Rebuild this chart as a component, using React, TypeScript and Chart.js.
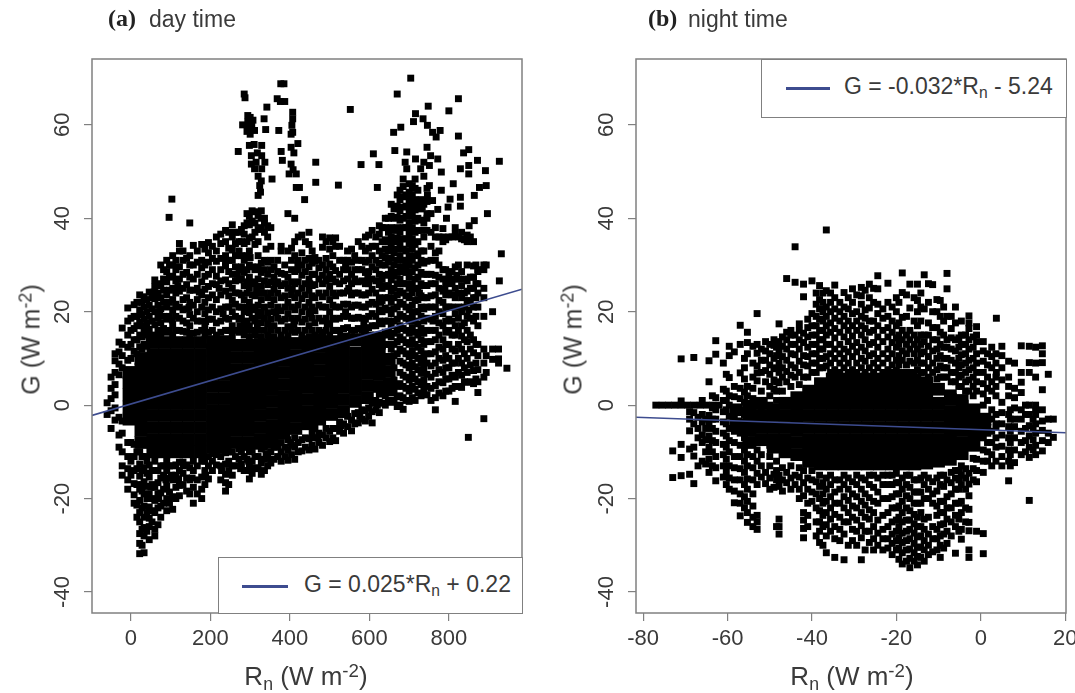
import React, { useEffect, useRef } from "react";
import { Chart, registerables } from "chart.js";

Chart.register(...registerables);

type Col = [number, number[]];

const yTicks = [-40, -20, 0, 20, 40, 60];
const dayXTicks = [0, 200, 400, 600, 800];
const nightXTicks = [-80, -60, -40, -20, 0, 20];

const dayLineX = [-98, 984];
const dayLineY = [-2.2, 24.8];
const nightLineX = [-81.7, 20.2];
const nightLineY = [-2.6, -5.9];

const dayOutliers: [number, number][] = [
  [285,66.6],[287,65.8],[377,68.8],[385,68.8],[368,65.6],[376,65],[387,65],[342,63.8],[407,62.7],[407,61.3],[405,59.9],[407,58.4],[403,58],[372,58.8],
  [294,62],[300,61.6],[294,60.6],[304,60],[296,59.4],[292,58.6],[300,58],[307,61],[311,58.8],[281,60],[335,61.3],[339,59],[270,54.3],[298,55.6],[310,55.8],[329,55.6],
  [303,53.4],[318,54],[329,53.4],[303,51.6],[315,52],[337,52],[311,50.6],[329,50.6],[320,49],[328,48],[324,47],[320,44.9],[326,45.6],[355,48.4],[378,54.3],[403,55.2],
  [420,56],[410,54],[381,52.4],[403,51.6],[398,49.5],[408,50.4],[416,49.5],[416,46.6],[424,46.6],[437,44],[465,52],[465,47.7],[522,47.1],[552,63.3],[579,51.5],
  [610,53.8],[624,51.5],[620,46.6],[103,44.1],[96,40.2],[148,39],[704,70],[670,66.6],[748,64],[824,65.6],[800,63],[716,62.4],
  [711,60.7],[735,61.3],[679,59.5],[661,58.4],[746,59.9],[759,58.4],[778,58.8],[768,57.4],[824,57.6],[850,54.7],[837,54],[927,52.2],
  [872,52.4],[850,51.3],[829,50.6],[892,50.2],[850,49.5],[894,47],[877,46.6],[811,47.4],[781,46],[803,44.1],[829,44.5],[864,44.9],
  [772,41.9],[798,42.4],[829,42.6],[897,41],[864,39.5],[794,40],[851,38.4],[932,32.4],[927,26.6],[664,54.5],[694,54.2],[745,55.2],
  [754,53.4],[772,52.7],[690,52],[716,52.7],[737,52],[694,50.6],[729,50.6],[751,51.3],[781,49.9],[737,49],[751,47],[746,44.9],
  [759,43.8],[733,42.4],[849,-6.9],[888,-2.9],
];

const dayColumns: Col[] = [
  [-60,[-2,0.5]],[-50,[-5,-1.2,1.4,3.6,6]],[-40,[-3.2,-0.6,2.2,4.4,7,9.5,11]],[-30,[-9,-6.4,-2.6,6.5,8.8,11.4,13.5]],
  [-22,[-15,-13,-10,-6,-3.4,8,10.6,13,16.5]],[-8,[-18,-16,-13.6,-11,-8,9.6,12.4,15,18,20.8]],
  [8,[-21,-19.2,-16.8,-14,-11,-8.4,11.5,14,16.4,19,21.5]],[22,[-31.8,-29.6,-27.5,-25,-23,-20.4,-18,-15.2,-12.6,-10,12.5,15,17.8,20.4,23.6]],
  [33,[-31.6,-28,-26.2,-24,-21.6,-19,-16.4,-13.4,-11,13,15.6,18.4,21,23.2]],[46,[-28.8,-26,-24.2,-21.8,-19,-15.4,-12.8,14,16.2,19,21.4,24.2]],
  [60,[-28,-26.6,-23,-20.4,-17.6,-14,-12,14.8,17.2,20,22.8,25.4,26.8]],[75,[-24,-21.6,-18.8,-15.6,-13,15,17.6,20.6,23,26,30]],
  [90,[-22.6,-20,-17.4,-14,-12,15.6,18.4,21,23.6,26.4,28.6,31]],[105,[-22.3,-19.6,-16,-13,15,17.4,20.4,22.6,25,27.6,30,32]],
  [122,[-19.4,-17.2,-14,-12.2,16,18.6,21,24.4,27,29.6,33,34.6]],[140,[-18.4,-15.6,-12.8,15.6,17.6,20.6,23,25.8,28.4,31.4]],
  [157,[-21,-17.6,-14,-12,15.4,18.6,21.4,24.6,27,30,34.2]],[178,[-20,-18,-15.4,-12,16,18,21,23.6,26.4,29.4,31,34.4]],
  [195,[-15.8,-13,-11,15.6,18.4,20.4,23,25.4,28,30.6,32.6,34.8]],[215,[-12.8,-10.6,15,17.6,20,22.6,25.8,27.6,30.8,33,36]],
  [238,[-18.4,-16.6,-14.8,-12.6,-10.2,16,18.6,21,24.4,26.8,29.8,32,35,37.4]],[255,[-15,-13,-10,14.8,17,20,22.4,25,28,31,33.2,36,38.6]],
  [272,[-11.6,-9.4,15.6,18.4,21,24,26.8,29,33,35,37]],[285,[-14,-11,-9,15,17.4,20,22.6,25.6,28.4,31,34.6,36.6,38.4]],
  [298,[-15.8,-13.2,-10,14.6,17,19.8,22,25,27.4,30,33,35.8,38.6,40.4]],[312,[-13.4,-11,-8.8,15,18,20.4,23.4,26,29,34.4,37,39,41.4]],
  [328,[-14.8,-12.4,-9.4,14.6,17.6,20,22.6,25.4,28.4,30.4,38,40,41.6]],[344,[-13,-11.2,-8.6,15,17.4,19.8,23,25.8,28,30.6,36,38.4]],
  [360,[-11.6,-9,14.6,17,20,22.6,24.8,27.4,29.6]],[378,[-12,-10,-8,15,18,20.2,23,25.6,28.2,33,34]],
  [395,[-11.8,-9.6,-7.4,14.8,16.8,19.6,22,25,27.4,33,41]],[412,[-11.6,-9,-7,15.6,18,20.4,23,26,28.6,32,35,40]],
  [430,[-9.8,-7.4,15,17.8,20,22.8,25,27.8,30,32.6,36.4]],[448,[-9.6,-7.2,14.6,17,19.6,22,24.6,27,29.6,31.4,34.4,37]],
  [463,[-9.4,-7,-5,15,17.6,20.2,23,25.8,28,30.8,31.6]],[482,[-8.6,-6.4,15.6,18,21,23.2,26,27.8,30,33.8,36]],
  [500,[-7.8,-5.6,15,17.4,20,22.6,25.4,28,30.2,33.4,35.8]],[515,[-7.6,-5,16,18.4,21,23.4,26.4,28.8,34,35.8]],
  [535,[-6,-4,16.4,19,21.6,24,26.6,29,31]],[555,[-5.5,-3.2,16,18.6,21,23.6,26,28,30.6,33.4]],
  [572,[-3.8,-1.6,16.4,18.8,21.4,24,26.4,29,31,35]],[590,[-3.4,-1.2,16,18.4,21,23.6,26,28.4,30.6,33,36]],
  [607,[-3.8,-1.4,0.4,17,19.6,22,24.8,27,29.6,32,34,37.4]],[625,[-1.6,0.6,2.4,15,18,20.4,23,25.8,28,30.4,33,36.6,38.4]],
  [640,[0,2,13,15.6,18,20.8,23,25.6,27.8,30,33.4,35.4,38,40]],[655,[0.6,2.6,12,14.6,17,19.6,22,24.4,26.8,29,31.4,33.8,36,38,40.4,43]],
  [670,[-0.3,1.8,4,11,13.6,16,18.4,21,23.6,26,28.4,31,33.4,35.8,38,40.2,42.6,45]],
  [685,[-0.9,1.6,4,6.4,9,11.6,14,16.4,19,21.6,24,26,28.6,31,33.4,35.6,38,40,42.4,44.6,46.8,48.4]],
  [700,[0.8,3,5.4,8,10.4,13,15.4,18,20.4,23,25,27.4,30,32,34.4,36.8,39,41.4,43.6,45.6,47.4]],
  [715,[1,3.4,5.6,8.2,10.6,13,15.6,18,20,22.4,25,27,29.4,32,34.4,37,39.4,41.8,44,46.4,48.4]],
  [730,[2,4.4,6.8,9,11.6,14,16.4,19,21,23.4,26,28.4,31,33,37.4,39.6,42,44]],
  [745,[2.2,4,6.6,9,11,13.6,16,18.6,21,23,25.6,28,30.8,37.4,40,41,43.6,46.4]],
  [766,[-1,1.6,4.2,6.8,9,11.4,14,16,19,21,23.6,26,27.8,31,32.6,36,38]],[785,[2,4.8,7,9.6,12,14,17,19.6,22,24.4,27,29,35,36,37.8]],
  [800,[3,5.6,8,10,13,16,18.4,21,24,26.8,28,36]],[816,[0.8,4,6,9,11.6,15,17,19.6,23,25,27,29.6,36.6,38]],
  [832,[3.8,6.4,9,12,14.8,17,20,23,25.6,28.6,35.6,37]],[846,[4.9,7,10,13.6,16,19,22.4,24.4,26.6,30,35,36.4]],
  [862,[4.6,7.4,11.2,14,18,21,23,25,27.4,29.8,35]],[873,[2.7,5,7.6,10.6,13,17,21,24,26,28.6,29]],
  [888,[6,9,12,19,23,25,29,30]],[894,[7,10.6,30]],[910,[9.8,12,20]],[925,[9,9.9,12]],[946,[7.9]],
];

const dayInfill: Col[] = [
  [0,[-15,-12,-8,10,13,16,18.6]],[15,[-24,-21.4,-17,-13.6,-10,11,14,17,19,22]],[28,[-30,-26.6,-22,-18.4,-14,-11,12,14.6,17,19.4,22]],
  [40,[-27,-23,-20,-17.4,-14.6,-12,12.6,15,17.6,20,22.6]],[53,[-25,-22.6,-20,-17,-14,15,18,20.6,23]],[68,[-25.6,-22,-19,-16.6,-14,16,18.6,21.4,24,25.6]],
  [82,[-21,-18,-15,-13,16.4,19,22,24.6,27,29]],[97,[-21,-18.6,-15.6,-13,16,19,22,24.6,27.4,30]],[113,[-20,-17.6,-15,-12.8,16,19,21.6,24,26.6,29,31]],
  [131,[-17,-14.6,-12.2,15.8,18,20.4,22.6,25,28,31,33]],[148,[-19,-16,-13.4,15,17,19.4,22,24.6,27.4,30,32]],[167,[-19,-16,-13,15.6,18,20,22.6,25,28,30.6,33]],
  [186,[-17,-14,-12,15,17,19.6,22,24.8,27.6,30,33.4]],[205,[-14,-12,16,18.4,21,23.6,26,29,31.4,34]],[226,[-16,-13,-11,15.6,18,20.6,23.6,26.6,29,31.4,34.6,36.6]],
  [246,[-17,-14,-12,-10,16,18.4,21,23.4,26,28.6,31,33.6,37]],[263,[-13,-11,16,19,21.6,24,26.6,29.6,32,34.6,37]],[278,[-12.6,-10,16,18.6,21,23.6,27,29.6,32,35,37.6]],
  [292,[-14,-11.6,-9,16,18,21,24,26.4,29,32,35,39,41]],[305,[-14.6,-12,-9.6,16,18.6,21,23.6,26.4,29.6,36,39.4,41.6]],[320,[-13.6,-11,16,19,21.4,24,27,29.6,32,35,37.6,40.6]],
  [336,[-14,-11.6,-9,16,18.6,21,24,26.6,29,31,37,39,40]],[352,[-12.4,-10,16,18.4,21.4,24,26.4,29,31,34,38]],[369,[-11,-9,16,18.6,21,24,26.4,28.6,31]],
  [387,[-11,-9,16,18.4,21,23.4,26,28,30]],[404,[-10.6,-8.6,16,18.6,21,23.6,26.4,29,31,33.6]],[421,[-10,-8,16,18.6,21.4,24,26.4,29,31,36]],
  [439,[-9,-7,16,18.4,21,23.6,26,28.6,31,35]],[456,[-8.6,-6,16,18.6,21,23.4,25.6,28,30.4,33]],[473,[-8,-6,16,18.6,21.4,24,27,29.4,31]],
  [491,[-7,-5,16,18.6,21,24,26.6,29,31.4,35]],[508,[-7,-5,16,18.6,21.4,24,27,29.6,32,35]],[525,[-5.6,-3.6,16,18.6,21,24,26,28,31,34]],
  [545,[-4.6,-2.4,16.6,19,21.6,24.4,27,29,31,33]],[563,[-4,-1.8,16,18.6,21.4,24,27,29,32]],[581,[-3,-1,16,18.6,21,23.6,26.6,29,31,34]],
  [598,[-2.4,-0.6,16.6,19,21.6,24,26,28.6,31,33.6,36.4]],[616,[-1,1,15,17,19,21.6,24,26.6,29,31,34,36]],[632,[0.4,2.4,12.6,15,17.4,20,22.4,25,27,30,32,35,38]],
  [648,[1,3,10.4,13,15.6,18,20.4,23,25.4,28,30.6,33,35,37,40]],[662,[1,3,5.4,8,10.6,13,15.4,18,20.6,23,25,27.6,30,32.6,35,37.4,40,42]],
  [677,[0,2,4.6,7,9.4,12,14.6,17,19.4,22,24.4,27,29.6,32,34.4,37,39.6,41.6,44,46]],[692,[1,3.6,6,8.6,11,13.4,16,18.6,21,23.4,26,28.4,31,33,35.6,38,40.4,42.6,45]],
  [708,[1.6,4,6.6,9,11.6,14,16.6,19,21.4,24,26,28.6,31,33.4,35.6,38,40.4,42.6,45,47]],[722,[2.6,5,7.6,10,12.4,15,17.4,20,22.6,25,27.4,30,32.4,35,37.4,40,43,46]],
  [737,[3,5.4,8,10.4,13,15.4,18,20.6,23,25.6,28,30.4,33,36,39,43]],[755,[1,3.6,6,8.4,11,13.6,16,18.4,21,23.4,26,28,31,34,37,41]],
  [775,[2.6,5,7.6,10,12.4,15,17.6,20,22.4,25,27.4,30,33,36]],[792,[3,5.6,8,10.6,13,15.6,18,21,23.6,26,29,35.4]],[808,[3.6,6.4,9,12,15,18,21,23.6,26,28.6,36]],
  [824,[4,7,10,13,16,18.6,21,24,27,30,36]],[839,[5,8,11,14,17.6,21,24,27,35.4]],[854,[5,8.6,12,15,18.6,22,25,27.4,36]],[868,[5.6,9,13,19,23,26,30]],
];

const dayScatter: [number, number][] = [
  [36,16.9],[72,20],[104,18.2],[146,20.9],[188,17.9],[232,19.6],[274,17],[318,17.3],[365,19.8],[410,17.3],[452,20],[494,17.4],[540,20],[586,17.3],[628,22],
  [58,24.2],[118,25.6],[172,24.2],[222,25],[268,28],[316,24.9],[362,26],[406,24.9],[450,26],[498,27],[548,25],[596,27.2],[640,31.6],[692,29.8],[726,24],
  [84,11],[132,-13],[206,-10.4],[276,-13.6],[340,-10.4],[402,-8],[470,-7],[528,-4.4],[576,-2.4],[620,0],[760,18],[790,24.8],[820,27.8],[850,20.4],[640,15],
  [30,-17],[50,-17.6],[88,-16],[120,-15.8],[154,-15.6],[188,-15],[228,-14],[296,-12],[70,-20],[102,-15],[238,30.6],[300,31.6],[340,33.4],[420,30],[540,30],
];

const dayCore: Col[] = [
  [-5,[-3,-0.4,2.2,4.8,7]],[25,[-8,-5.4,-2.8,-0.2,2.4,5,7.6,10]],
  [55,[-10,-7.4,-4.8,-2.2,0.4,3,5.6,8.2,10.8,13.4]],[85,[-10,-7.4,-4.8,-2.2,0.4,3,5.6,8.2,10.8,13.4]],
  [115,[-10,-7.4,-4.8,-2.2,0.4,3,5.6,8.2,10.8,13.4]],[145,[-10,-7.4,-4.8,-2.2,0.4,3,5.6,8.2,10.8,13.4]],
  [175,[-10,-7.4,-4.8,-2.2,0.4,3,5.6,8.2,10.8,13.4]],[205,[-9,-6.4,-3.8,-1.2,1.4,4,6.6,9.2,11.8,13.6]],
  [235,[-9,-6.4,-3.8,-1.2,1.4,4,6.6,9.2,11.8,13.6]],[265,[-8,-5.4,-2.8,-0.2,2.4,5,7.6,10.2,12.8]],
  [295,[-8,-5.4,-2.8,-0.2,2.4,5,7.6,10.2,12.8]],[325,[-7.4,-4.8,-2.2,0.4,3,5.6,8.2,10.8,13]],
  [355,[-7,-4.4,-1.8,0.8,3.4,6,8.6,11.2,13.2]],[385,[-6,-3.4,-0.8,1.8,4.4,7,9.6,12.2,13.4]],
  [415,[-5,-2.4,0.2,2.8,5.4,8,10.6,13.2]],[445,[-4,-1.4,1.2,3.8,6.4,9,11.6,13.6]],
  [475,[-3,-0.4,2.2,4.8,7.4,10,12.6,14]],[505,[-2,0.6,3.2,5.8,8.4,11,13.6]],
  [535,[-1.4,1.2,3.8,6.4,9,11.6,14.2]],[565,[0.8,3.4,6,8.6,11.2,14]],[595,[1.6,4.2,6.8,9.4,12,14.4]],
  [625,[4,6.6,9.2,11.8,13.4]],[650,[4.6,7.2,9.8]],
];

const nightZeroX = [-77,-75.5,-74,-72.5,-71,-69.5,-68,-66.5,-65,-63.5,-62];
const nightZeroY = [0,0,0,0,0,0,0,0,0,0,0];

const nightColumns: Col[] = [
  [-73,[-15.5,-9.8]],[-71,[-15.1,-11.2,-8.4,0.9,9.9]],[-69,[-14.8,-9.4,-5.5,-3,-1.4]],[-68,[-16.8,-10.9,-9,-4,-1.6,10.2]],
  [-66,[-12,-8,-6.4,-3.6,-2,1]],[-64.4,[-14.4,-11.6,-9,-6.6,-4,-2.2,5,9.5]],[-62.8,[-16.2,-13.4,-11,-8,-5.6,-3,-1,1.6,10.9,13.8]],
  [-61,[-15.4,-13,-10.6,-8.4,-6,-3.6,-1.4,1,3.4,9]],[-59.6,[-18,-15.6,-13,-10,-7.6,-5,-2.4,0,2,5.9,10.6,12.6]],
  [-58.4,[-20.9,-18.4,-16,-13.4,-11,-8,-5.6,-3,-0.6,1.8,4,11.4]],[-57,[-23.7,-21,-19,-16,-13.6,-11,-8.6,-6,-3.6,-1,1.4,3.6,6.9,13,17.1]],
  [-55.3,[-25.1,-23,-20.6,-18,-15.8,-13,-10.6,-8,-5.4,-3,-0.6,2,4,11,13.4,15.6]],[-53,[-26.6,-25,-23.6,-17,-14.6,-12,-9.6,5.2,6.9,8.4,11.1,13,19.6]],
  [-51,[-16.8,-14.4,5,7.4,9.6,11.6,13.6]],[-49,[-17.6,-14.8,3.4,5.4,7.8,10,12.8,14]],[-47.8,[-27.6,-26,-24.4,-17.4,-15,4.8,7,9,11.4,13.6,17.4]],
  [-46,[-16.6,-14.4,5,7.2,9.6,12,14,15.6,27.1]],[-44,[-17,-15,6,8,10.8,13,15,26.3,33.9]],
  [-42,[-28.4,-26.4,-24.6,-23,-19.4,-16.6,-14,6,8.6,10.6,13.4,15.4,23.2,25.9]],[-40,[-20.6,-18.6,-16,-14,7,9,11,13,15,17,19.6,26.6]],
  [-38.2,[-29.4,-27,-25,-22.6,-20,-17.4,-15,8,10,12,14,16,18.4,20.6,22.6,25.6]],[-36.6,[-31.6,-28,-25.6,-23,-20.6,-18,-15.6,8.4,10.4,13,15,17,19,21,24.5,37.5]],
  [-34.6,[-32.6,-28.6,-26,-23.4,-21,-18.6,-16,7.6,10,12,14.4,16.4,18.6,20.6,23,25.7]],[-32.4,[-33.1,-27.6,-25,-22,-19.6,-17,-15,8,10,12,14.6,17,19,21,24.1]],
  [-30.4,[-29,-26.6,-24,-21.6,-19,-16.4,7.6,10.4,12.6,14.8,17,19.6,22,24.9]],[-28.3,[-33.1,-28.4,-25.8,-23,-20.6,-18,-15.6,8,10,12.4,15,17,19,21.6,23.4,25.2]],
  [-26.4,[-29.4,-27,-24.4,-22.4,-19.8,-17,-15,8,10.6,13,15.6,18,20.8,23,25.9]],[-24.4,[-30,-27.4,-24.6,-21,-18.6,-15.6,8,10,12.4,14.6,17,19.6,21.6,24.9,27.7]],
  [-22,[-30.6,-28.6,-26,-23,-20,-17,-15,7.6,10,12,14.6,16.6,19,22,26.1]],[-20,[-31,-29,-27,-24.6,-22,-19,-16.6,-14.6,7.4,9.6,12.4,14.4,17,20,23]],
  [-18.6,[-34,-31.6,-29.4,-27.4,-25,-23,-20.6,-18,-15.6,7,9.6,11.6,14,16,18.8,24.1,28.3]],[-16.8,[-34.8,-32.8,-30.8,-28.6,-26.6,-24.6,-22.6,-20,-17.6,-15,7,9.4,12,14,16,20.8,25.9]],
  [-15,[-34.2,-32.4,-30.4,-28.2,-26,-24,-21,-18.6,-16,7.6,9.6,12,14,17,20,22.4,25.9]],[-13.4,[-33.4,-31,-29,-26.6,-24.4,-20,-17,-15,7,9,11.4,13.6,15,20.6,27.9]],
  [-11.4,[-31.4,-28.6,-26,-21,-19,-16.4,7,9,11.6,14,16.6,20,25.8]],[-9.6,[-32.6,-30,-28,-25.6,-23,-20.6,-17,-15,6,8.4,10.6,13,15.6,19,22.4]],
  [-8,[-29.6,-27,-24.4,-22,-19.6,-16,6,8,10,12.4,14,19,24.9,28.2]],[-6,[-31.7,-26,-23.6,-21,-18,-15.6,-14,5,7,9,11.6,14,17.6,21]],
  [-4.6,[-28.7,-26.6,-23,-20.6,-17,-15,-13,4,6.4,8.6,10.8,13,15,18]],[-2.8,[-32.6,-31,-26.9,-25.1,-22.3,-19.4,-16.9,-14.6,3,5.4,7.6,9.6,12,14,16.4,17.6,19.1]],
  [-1,[-27,-16.4,-14,-11.6,3,5,7,9,11,13.6,15,16.8]],[0.6,[-31.8,-27.5,-14.4,-12,-9.6,-7,0,2.4,4.6,7,9.4,11.6,13.6]],
  [2.6,[-13,-10.6,-8,-5.6,-3,-1,3,5,8,10.4,12.4]],[3.7,[-4,7,18.6]],[5,[-13,-11,-8.8,-6.4,-4,-1.6,0.6,5.4,8,10.6,12.6]],
  [6.6,[-16.2,-12,-9.6,-7,-4.6,-2,2,4,6,9.4]],[8,[-12.3,-9.6,-7,-4.6,-3,-0.6,1.6,3.6,9]],[9.6,[-10.6,-8,-5.6,-3,-1,2.7,4.9,7,12.7]],
  [11.5,[-20.4,-11.2,-9,-6.6,-4.4,-2,0,7,9.1,12.6]],[13,[-10.6,-8.6,-6,-4,-2,-1,0,6,9,12.4]],[14.6,[-9.8,-7.6,-5.4,-3.4,-1,3.3,9.1,11,12.7]],
  [16,[-8,-6,-3,6.6]],[17.2,[-6.9,-3]],
];

const nightInfill: Col[] = [
  [-67,[-13,-7,-5,-2.6]],[-65.2,[-12.6,-10,-7.4,-5,-3]],[-63.6,[-13,-10,-7.6,-5,-3,-0.6,2]],[-60.3,[-17,-14.4,-11.6,-9,-6.6,-4,-1,1,3,6.6]],
  [-56,[-22,-19.6,-17,-14.4,-12,-9.6,-7,-4.6,-2,0.6,2.8,5.6,8,10]],[-54,[-26,-24,-21.6,-19,-16,-13.4,-11,-8.4,-6,-3.6,-1,1.4,3.6,6,9,12.6]],
  [-52,[-15.4,-13,-10.6,-8,-1,1,3,7,9.6,12]],[-50,[-18,-15.6,-13,-11,-8.6,0,2,4,6.6,8.6,11,13]],[-48.4,[-26,-16,-14,-12,1,3,5,8,10.6,12.4]],
  [-47,[-18.4,-16,-13.4,3,6,8,10.4,12.6,14.6]],[-45,[-18,-15.6,-13,4,6.4,8.6,11,13,15,16]],[-43,[-20,-18,-15.4,-13.4,4.4,7,9.4,12,14,16,17.4]],
  [-41,[-26,-23.6,-21,-18,-15.6,6,8.4,10.4,12.4,14.6,16.6,18.4]],[-39,[-28,-25,-22,-19,-16.4,7,9,11,13,15,17,19,21.6,24]],
  [-37.4,[-30,-26,-23.6,-21,-19,-16.6,8,10,12,14,16,18,20,22,24]],[-35.6,[-27,-24.4,-22,-19.6,-17,-15,7,9,11,13,15.6,17.6,20,22,24]],
  [-33.4,[-29,-26.6,-24,-21,-18,-16,7,9,11,13,15.6,18,20,22]],[-31.4,[-30,-25,-23,-20.4,-18,-15.6,7,9,11.4,13.6,16,18,20.6,23]],
  [-29.4,[-30,-27,-24.6,-22,-19.6,-17,-15,7,9,11.4,13.4,16,18,20,23.6]],[-27.4,[-31,-27,-24,-21.4,-19,-16,7,9.4,11.6,14,16.4,18.6,20.4,24.6]],
  [-25.4,[-31,-28.6,-26,-23,-20.6,-17.6,-15,7,9,11,13.4,16,18,22,25]],[-23.2,[-31,-28.6,-26.6,-23.6,-20,-17,-15,7,9,11,13.6,16,18.6,20.6]],
  [-21,[-32,-29.6,-27.6,-25,-22,-19.6,-17,-15,7,8.6,11,13.4,15.6,18,21]],[-19.4,[-33,-30.6,-28.4,-26,-24,-21.6,-19,-16.6,7,8.6,10.6,13,15,17.6,22]],
  [-17.6,[-33.4,-31,-29,-27,-24.6,-22,-19.4,-17,-15,7,8.6,11,13,15,19,23.6]],[-15.8,[-33.4,-31.6,-29.6,-27.4,-25.4,-23.4,-21,-18.6,-16,7,9,11,13,15,18,23]],
  [-14.2,[-32.6,-30.4,-28,-26,-23,-21,-18.6,-15.6,7,9,11,13,15,18,21,24]],[-12.4,[-32,-30,-27.6,-24,-20,-18,-15.6,6,8,10.4,12.6,15,17.6,22,26]],
  [-10.4,[-31,-28.6,-26.6,-23.6,-21.6,-18.4,-15.6,5.6,7.6,10,12,14,16.6,20,22.6]],[-8.8,[-30.6,-27.6,-25.4,-23,-20.6,-17.4,-15,6,8,10,12.4,15,18,21]],
  [-7,[-28,-25,-22,-19,-16.6,-14.4,5,7,9.6,12,14.4,16.4,19]],[-5.2,[-27,-24.4,-21,-18,-16,-14,4,6,8,10,12.4,14.4]],
  [-3.6,[-25,-22,-18,-15.6,-13.6,3,5,7,9,11,13,15]],[-1.8,[-16,-13.6,-11.4,2,4,6,8,10,12.4,14.6]],[1.6,[-12,-10,-8,1,3.6,6,8.6,11]],
  [3.6,[-12,-9,-7,-4.6,-2,2,4,6,9,11]],[7,[-13,-10.6,-8,-5.6,-3,-1]],[10.6,[-10,-7.6,-5,-2,0]],[12.4,[-9.6,-7.4,-5,-3]],
];

const nightCore: Col[] = [
  [-58,[-4,-1]],[-55,[-8,-5.4,-2.8,-0.2]],[-52,[-7.4,-4.8,-2.2,0.4]],[-49.2,[-9,-7.4,-4.8,-2.2,-1]],[-46.4,[-10,-7.4,-4.8,-2.2,0.4]],[-43.6,[-10.6,-8,-5.4,-2.8,-0.2,1.6]],
  [-40.8,[-12,-10,-7.4,-4.8,-2.2,0.4,3]],[-38,[-12.6,-10,-7.4,-4.8,-2.2,0.4,3,4.6]],[-35.2,[-12.6,-10,-7.4,-4.8,-2.2,0.4,3,5.6]],
  [-32.4,[-12.6,-10,-7.4,-4.8,-2.2,0.4,3,5.6]],[-29.6,[-12.6,-10,-7.4,-4.8,-2.2,0.4,3,5.6]],[-26.8,[-12.6,-10,-7.4,-4.8,-2.2,0.4,3,5.6]],
  [-24,[-12.6,-10,-7.4,-4.8,-2.2,0.4,3,5.6]],[-21.2,[-12.6,-10,-7.4,-4.8,-2.2,0.4,3,5.6]],[-18.4,[-12.6,-10,-7.4,-4.8,-2.2,0.4,3,5.6]],
  [-15.6,[-12.6,-10,-7.4,-4.8,-2.2,0.4,3,5.4]],[-12.8,[-12.4,-10,-7.4,-4.8,-2.2,0.4,3,4.8]],[-10,[-12,-9.6,-7.4,-4.8,-2.2,0.4,3.4]],
  [-7.2,[-11.6,-9,-6.6,-4,-1.4,1.2,2]],[-4.4,[-10.4,-8,-5.4,-2.8,-0.2,1]],[-1.6,[-8.6,-6,-3.4,-1]],[1,[-5.4,-3]],
];

const expand = (cols: Col[]) => cols.flatMap(([x, ys]) => ys.map((y) => ({ x, y })));
const pairs = (list: [number, number][]) => list.map(([x, y]) => ({ x, y }));

const FONT = '"Liberation Sans", Arial, sans-serif';
const GRAY = "#808080";
const TEXT = "#3a3a3a";
const LINE = "#3d4c8f";
const TOP = 59;
const BOTTOM = 613;
const HEIGHT = 693;

const framePlugin = {
  id: "frame",
  afterDraw(chart: any) {
    const { ctx, chartArea: a } = chart;
    ctx.save();
    ctx.strokeStyle = GRAY;
    ctx.lineWidth = 1.5;
    ctx.strokeRect(a.left, a.top, a.right - a.left, a.bottom - a.top);
    ctx.restore();
  },
};

type PanelProps = {
  left: number; width: number; areaLeft: number; areaRight: number;
  xMin: number; xMax: number; xTicks: number[];
  points: { x: number; y: number }[]; core: { x: number; y: number }[]; fit: { x: number; y: number }[];
};

function Panel(p: PanelProps) {
  const ref = useRef<HTMLCanvasElement>(null);
  useEffect(() => {
    const fixX = (s: any) => { s.height = HEIGHT - BOTTOM; s.paddingLeft = 0; s.paddingRight = 0; };
    const fixY = (s: any) => { s.width = p.areaLeft; s.paddingTop = 0; s.paddingBottom = 0; };
    const tickStyle = { color: TEXT, font: { family: FONT, size: 22 } };
    const chart = new Chart(ref.current!, {
      type: "scatter",
      data: {
        datasets: [
          { data: p.fit, showLine: true, borderColor: LINE, borderWidth: 1.6, pointRadius: 0, order: 0 },
          { data: p.points, backgroundColor: "#000", pointStyle: "rect", pointRadius: 4.9, borderWidth: 0, order: 1 },
          { data: p.core, backgroundColor: "#000", pointStyle: "rect", pointRadius: 9, borderWidth: 0, order: 2 },
        ],
      } as any,
      plugins: [framePlugin],
      options: {
        responsive: false,
        animation: false,
        events: [],
        layout: { padding: { top: TOP, right: p.width - p.areaRight, left: 0, bottom: 0 } },
        plugins: { legend: { display: false }, tooltip: { enabled: false } },
        scales: {
          x: {
            type: "linear", min: p.xMin, max: p.xMax,
            afterBuildTicks: (s: any) => { s.ticks = p.xTicks.map((value) => ({ value })); },
            afterFit: fixX,
            grid: { drawOnChartArea: false, drawTicks: true, tickLength: 8, color: GRAY, lineWidth: 1.2 },
            border: { display: false },
            ticks: { ...tickStyle, autoSkip: false, maxRotation: 0, minRotation: 0, padding: 5, callback: (v: any) => String(v) },
          },
          y: {
            type: "linear", min: -44.5, max: 74.1,
            afterBuildTicks: (s: any) => { s.ticks = yTicks.map((value) => ({ value })); },
            afterFit: fixY,
            grid: { drawOnChartArea: false, drawTicks: true, tickLength: 8, color: GRAY, lineWidth: 1.2 },
            border: { display: false },
            ticks: { ...tickStyle, autoSkip: false, minRotation: 90, maxRotation: 90, padding: 5, crossAlign: "center", callback: (v: any) => String(v) },
          },
        },
      } as any,
    });
    return () => chart.destroy();
  }, []);
  return (
    <canvas ref={ref} width={p.width} height={HEIGHT}
      style={{ position: "absolute", left: p.left, top: 0, width: p.width, height: HEIGHT }} />
  );
}

const abs = (s: React.CSSProperties): React.CSSProperties => ({ position: "absolute", whiteSpace: "nowrap", color: TEXT, fontFamily: FONT, ...s });
const sub: React.CSSProperties = { fontSize: "0.68em", position: "relative", top: "0.28em", lineHeight: 0 };
const sup: React.CSSProperties = { fontSize: "0.72em", position: "relative", top: "-0.45em", lineHeight: 0 };

const Rn = () => <>R<span style={sub}>n</span></>;
const Unit = () => <>(W m<span style={sup}>-2</span>)</>;

function Title({ x, tag, text, textX }: { x: number; tag: string; text: string; textX: number }) {
  return (
    <>
      <div style={abs({ left: x, top: 5, fontSize: 24, fontFamily: '"Liberation Serif", serif', fontWeight: 700, color: "#222" })}>{tag}</div>
      <div style={abs({ left: textX, top: 6, fontSize: 23 })}>{text}</div>
    </>
  );
}

function XLabel({ cx }: { cx: number }) {
  return <div style={abs({ left: cx - 100, width: 200, top: 661, textAlign: "center", fontSize: 26 })}><Rn /> <Unit /></div>;
}

function YLabel({ cx }: { cx: number }) {
  return (
    <div style={abs({ left: cx - 100, width: 200, top: 325, textAlign: "center", fontSize: 25, transform: "rotate(-90deg)" })}>G <Unit /></div>
  );
}

function LegendBox({ left, top, width, height, lx, lw, ly, tx, text }: any) {
  return (
    <div style={{ position: "absolute", left, top, width, height, background: "#fff", border: `1.5px solid ${GRAY}`, boxSizing: "border-box" }}>
      <div style={{ position: "absolute", left: lx, top: ly, width: lw, height: 2.5, background: LINE }} />
      <div style={abs({ left: tx, top: ly - 14, fontSize: 23 })}>G = {text[0]}*<Rn /> {text[1]}</div>
    </div>
  );
}

export default function App() {
  return (
    <div style={{ position: "absolute", left: 0, top: 0, width: 1075, height: 693, background: "#fff", overflow: "hidden", filter: "blur(0.5px)" }}>
      <Panel left={0} width={545} areaLeft={92} areaRight={522} xMin={-98} xMax={984} xTicks={dayXTicks}
        points={[...expand(dayColumns), ...expand(dayInfill), ...pairs(dayOutliers), ...pairs(dayScatter)]} core={expand(dayCore)}
        fit={dayLineX.map((x, i) => ({ x, y: dayLineY[i] }))} />
      <Panel left={545} width={530} areaLeft={91} areaRight={521} xMin={-81.7} xMax={20.2} xTicks={nightXTicks}
        points={[...expand(nightColumns), ...expand(nightInfill), ...nightZeroX.map((x, i) => ({ x, y: nightZeroY[i] }))]} core={expand(nightCore)}
        fit={nightLineX.map((x, i) => ({ x, y: nightLineY[i] }))} />
      <Title x={108} tag="(a)" text="day time" textX={149} />
      <Title x={648} tag="(b)" text="night time" textX={688} />
      <XLabel cx={306} />
      <XLabel cx={852} />
      <YLabel cx={31} />
      <YLabel cx={573} />
      <LegendBox left={218} top={557} width={305} height={57} lx={23} lw={46} ly={27} tx={85} text={["0.025", "+ 0.22"]} />
      <LegendBox left={761} top={59} width={306} height={59} lx={24} lw={44} ly={27} tx={82} text={["-0.032", "- 5.24"]} />
    </div>
  );
}
